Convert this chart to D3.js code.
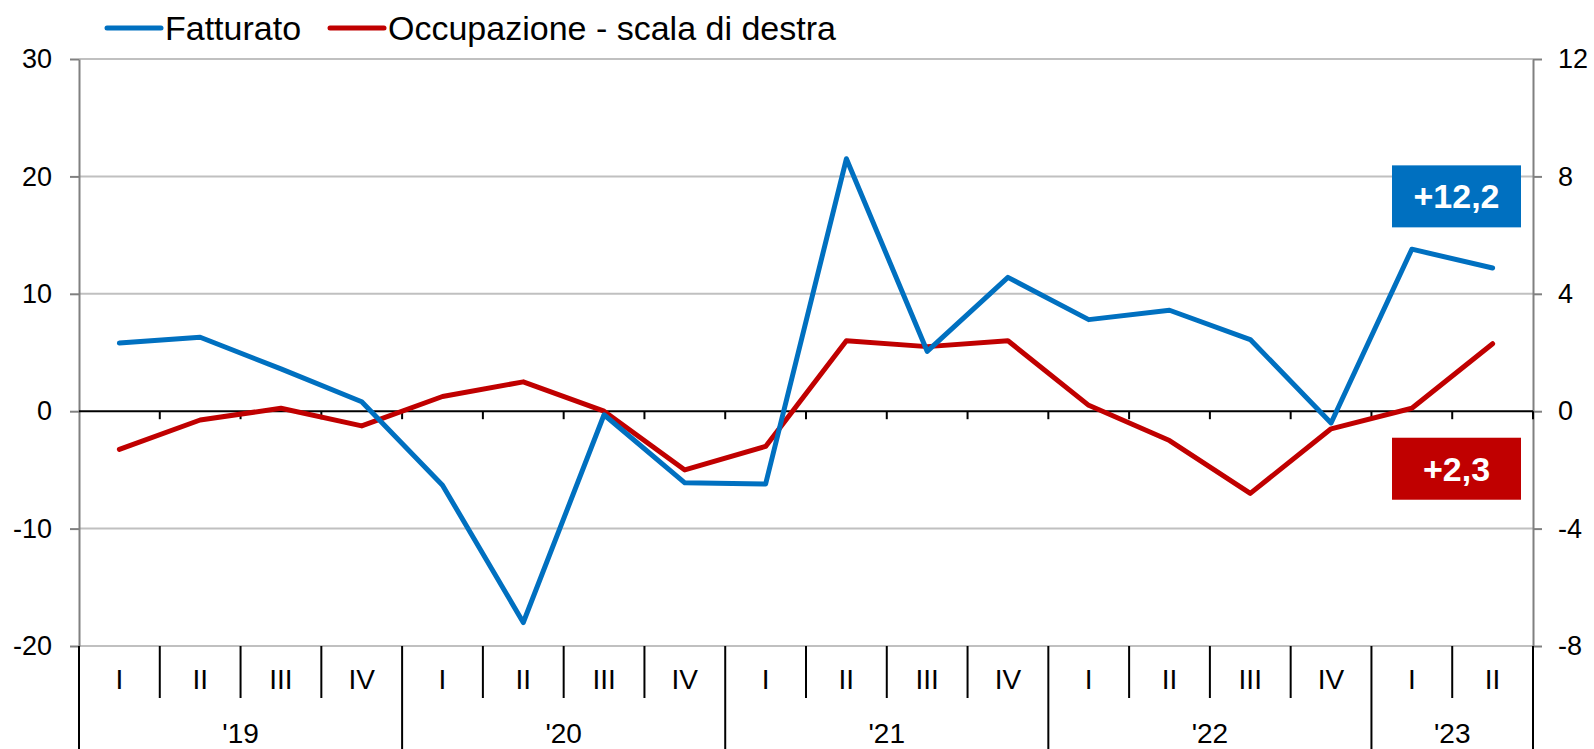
<!DOCTYPE html>
<html>
<head>
<meta charset="utf-8">
<title>Fatturato e occupazione</title>
<script src="https://d3js.org/d3.v7.min.js"></script>
<style>
  body { margin: 0; background: #fff; }
  text { font-family: "Liberation Sans", Arial, sans-serif; fill: #000; }
</style>
</head>
<body>
<div id="chart"></div>
<script>
/* global d3 */

const quarters = ['I', 'II', 'III', 'IV', 'I', 'II', 'III', 'IV', 'I', 'II', 'III', 'IV',
                  'I', 'II', 'III', 'IV', 'I', 'II'];
const years = ["'19", "'20", "'21", "'22", "'23"];
const quartersPerYear = [4, 4, 4, 4, 2];

// variazioni percentuali (scala di sinistra)
const fatturato = [5.8, 6.3, 3.6, 0.8, -6.3, -18.0, -0.3, -6.1, -6.2, 21.5, 5.1, 11.4,
                   7.8, 8.6, 6.1, -1.0, 13.8, 12.2];
// scala di destra
const occupazione = [-1.3, -0.3, 0.1, -0.5, 0.5, 1.0, 0.0, -2.0, -1.2, 2.4, 2.2, 2.4,
                     0.2, -1.0, -2.8, -0.6, 0.1, 2.3];

const leftTicks = [-20, -10, 0, 10, 20, 30];
const rightTicks = [-8, -4, 0, 4, 8, 12];
const lastLabels = ['+12,2', '+2,3'];

const W = 1594, H = 749;
const plot = { left: 79, right: 1533, top: 59, bottom: 646 };
const blue = '#0070c0', red = '#c00000';

const svg = d3.select('#chart').append('svg')
  .attr('width', W)
  .attr('height', H);

const idx = d3.range(quarters.length);

const x = d3.scaleBand()
  .domain(idx)
  .range([plot.left, plot.right]);

const yL = d3.scaleLinear().domain([-20, 30]).range([plot.bottom, plot.top]);
const yR = d3.scaleLinear().domain([-8, 12]).range([plot.bottom, plot.top]);

// gridlines
svg.append('g')
  .selectAll('line')
  .data(leftTicks.filter(d => d !== 0))
  .join('line')
    .attr('x1', plot.left)
    .attr('x2', plot.right)
    .attr('y1', d => yL(d))
    .attr('y2', d => yL(d))
    .attr('stroke', '#c0c0c0')
    .attr('stroke-width', 2);

// left axis (plain hyphen for negatives, as in the original)
const gl = svg.append('g')
  .attr('transform', `translate(${plot.left},0)`)
  .call(d3.axisLeft(yL).tickValues(leftTicks).tickFormat(d => String(d))
    .tickSize(9).tickSizeOuter(0).tickPadding(18));
gl.selectAll('path, line').attr('stroke', '#808080').attr('stroke-width', 2);
gl.selectAll('text').style('font-size', '27px').attr('fill', '#000');

// right axis
const gr = svg.append('g')
  .attr('transform', `translate(${plot.right},0)`)
  .call(d3.axisRight(yR).tickValues(rightTicks).tickFormat(d => String(d))
    .tickSize(9).tickSizeOuter(0).tickPadding(16));
gr.selectAll('path, line').attr('stroke', '#808080').attr('stroke-width', 2);
gr.selectAll('text').style('font-size', '27px').attr('fill', '#000');

// zero line with category ticks
svg.append('line')
  .attr('x1', plot.left).attr('x2', plot.right)
  .attr('y1', yL(0)).attr('y2', yL(0))
  .attr('stroke', '#000').attr('stroke-width', 2);

svg.append('g')
  .selectAll('line')
  .data(idx.slice(1).concat([quarters.length]))
  .join('line')
    .attr('x1', d => d < quarters.length ? x(d) : plot.right)
    .attr('x2', d => d < quarters.length ? x(d) : plot.right)
    .attr('y1', yL(0))
    .attr('y2', yL(0) + 8)
    .attr('stroke', '#000')
    .attr('stroke-width', 2);

// category table below the plot
const yearStarts = [];
let acc = 0;
quartersPerYear.forEach(n => { yearStarts.push(acc); acc += n; });
const edge = i => i < quarters.length ? x(i) : plot.right;

svg.append('g')
  .selectAll('line')
  .data(d3.range(quarters.length + 1))
  .join('line')
    .attr('x1', d => edge(d))
    .attr('x2', d => edge(d))
    .attr('y1', plot.bottom)
    .attr('y2', d => (yearStarts.includes(d) || d === quarters.length) ? H : plot.bottom + 52)
    .attr('stroke', '#000')
    .attr('stroke-width', 2);

svg.append('g')
  .selectAll('text')
  .data(idx)
  .join('text')
    .attr('x', d => x(d) + x.bandwidth() / 2)
    .attr('y', 689)
    .attr('text-anchor', 'middle')
    .style('font-size', '28px')
    .text(d => quarters[d]);

svg.append('g')
  .selectAll('text')
  .data(years)
  .join('text')
    .attr('x', (d, i) => (edge(yearStarts[i]) + edge(yearStarts[i] + quartersPerYear[i])) / 2)
    .attr('y', 743)
    .attr('text-anchor', 'middle')
    .style('font-size', '28px')
    .text(d => d);

// series
const lineL = d3.line().x((d, i) => x(i) + x.bandwidth() / 2).y(d => yL(d));
const lineR = d3.line().x((d, i) => x(i) + x.bandwidth() / 2).y(d => yR(d));

svg.append('path')
  .datum(occupazione)
  .attr('d', lineR)
  .attr('fill', 'none')
  .attr('stroke', red)
  .attr('stroke-width', 5)
  .attr('stroke-linejoin', 'round')
  .attr('stroke-linecap', 'round');

svg.append('path')
  .datum(fatturato)
  .attr('d', lineL)
  .attr('fill', 'none')
  .attr('stroke', blue)
  .attr('stroke-width', 5)
  .attr('stroke-linejoin', 'round')
  .attr('stroke-linecap', 'round');

// value boxes for the last quarter
const boxes = [
  { text: lastLabels[0], color: blue, cy: yL(18.3) },
  { text: lastLabels[1], color: red, cy: yR(-1.96) }
];
const bx0 = 1392, bw = 129, bh = 62;
const bg = svg.append('g').selectAll('g').data(boxes).join('g');
bg.append('rect')
  .attr('x', bx0)
  .attr('y', d => d.cy - bh / 2)
  .attr('width', bw)
  .attr('height', bh)
  .attr('fill', d => d.color);
bg.append('text')
  .attr('x', bx0 + bw / 2)
  .attr('y', d => d.cy + 12)
  .attr('text-anchor', 'middle')
  .style('font-size', '34px')
  .style('font-weight', 'bold')
  .style('fill', '#fff')
  .text(d => d.text);

// legend
const legend = [
  { name: 'Fatturato', color: blue, x: 107 },
  { name: 'Occupazione - scala di destra', color: red, x: 330 }
];
const lg = svg.append('g').selectAll('g').data(legend).join('g');
lg.append('line')
  .attr('x1', d => d.x)
  .attr('x2', d => d.x + 54)
  .attr('y1', 28)
  .attr('y2', 28)
  .attr('stroke', d => d.color)
  .attr('stroke-width', 5)
  .attr('stroke-linecap', 'round');
lg.append('text')
  .attr('x', d => d.x + 58)
  .attr('y', 40)
  .style('font-size', '34px')
  .text(d => d.name);
</script>
</body>
</html>
